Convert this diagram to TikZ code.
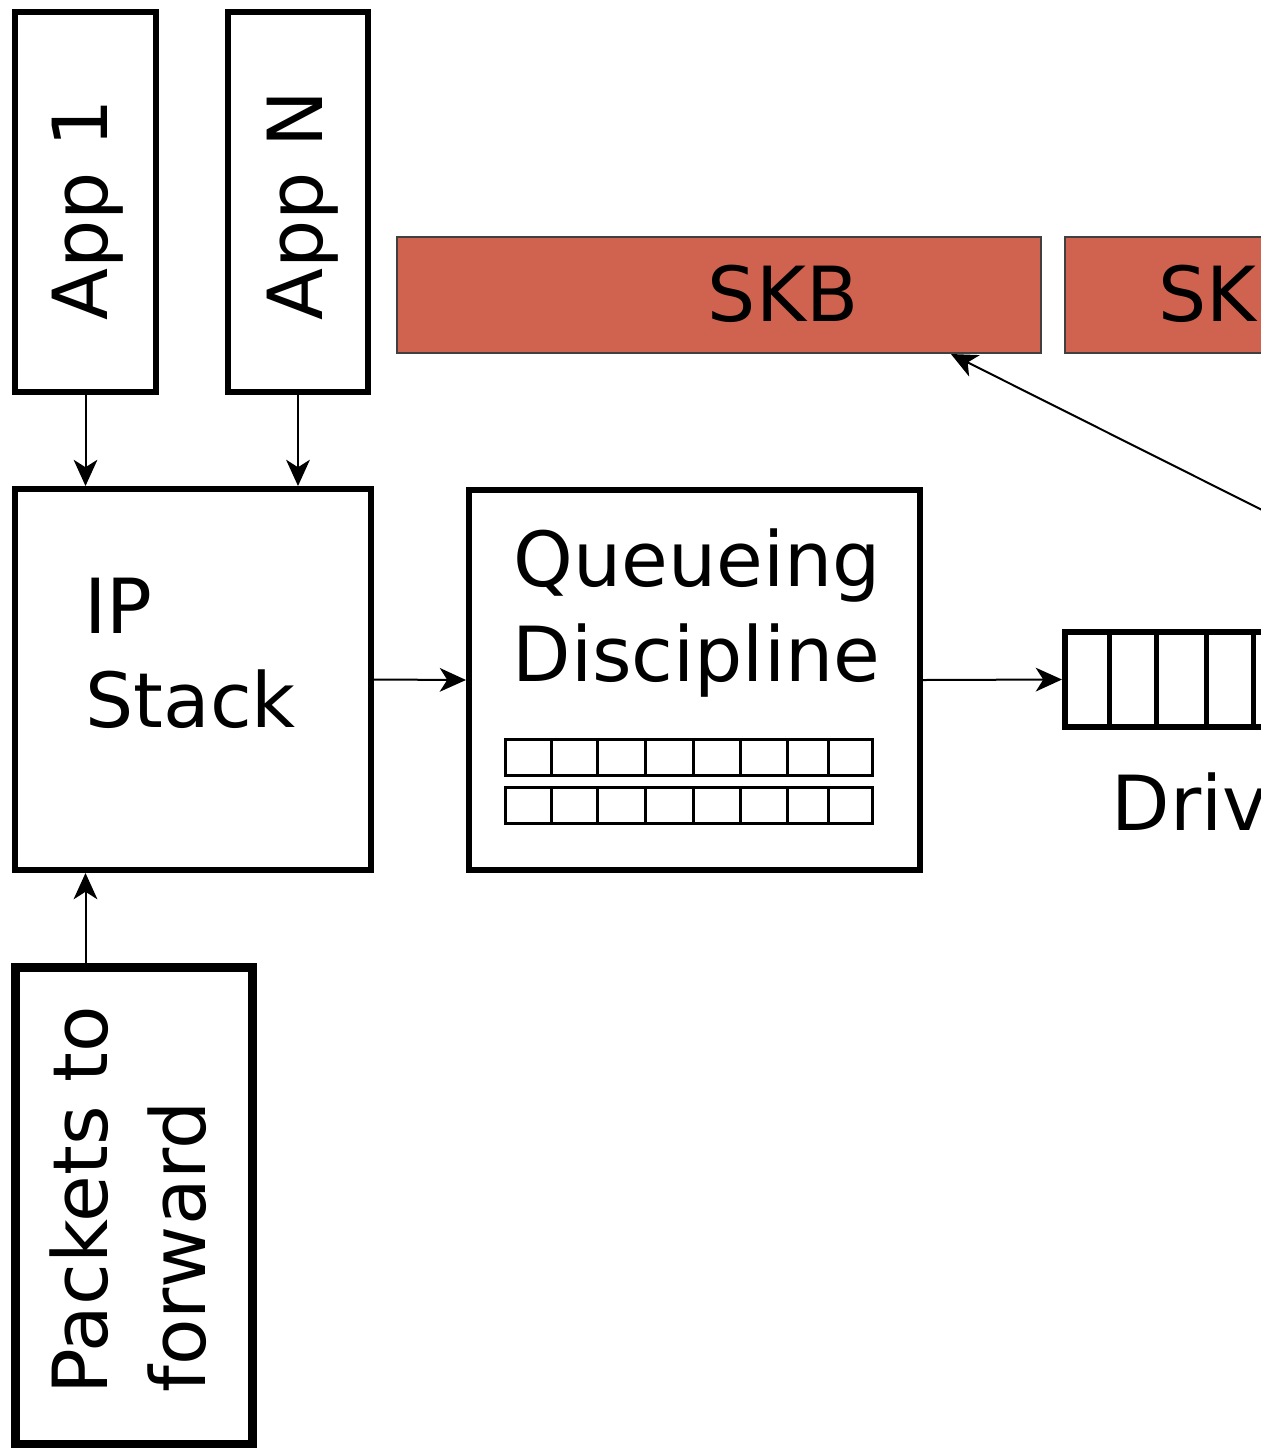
\documentclass[tikz,border=0pt]{standalone}
\usepackage{fontspec}
\setmainfont{DejaVu Sans}
\usetikzlibrary{arrows.meta,calc}
\definecolor{skbred}{RGB}{207,99,79}
\tikzset{
  box/.style={draw, line width=2.4pt, inner sep=0pt},
  heavybox/.style={draw, line width=3.6pt, inner sep=0pt},
  skbbox/.style={draw=black!75, line width=0.8pt, fill=skbred, inner sep=0pt,
    minimum height=46.4pt},
  lbl/.style={inner sep=0pt, font=\fontsize{30.4}{38}\selectfont},
  vlbl/.style={lbl, rotate=90, anchor=base west},
  arr/.style={-{Stealth[length=10.5pt,width=9.5pt,inset=3pt]}, line width=0.8pt},
  cell/.style={line width=1.2pt},
}
\begin{document}
\begin{tikzpicture}[x=0.4pt,y=-0.4pt]
  \useasboundingbox (0,0) rectangle (1261,1448);
  \clip (0,0) rectangle (1261,1448);

  % applications
  \node[box, minimum width=56.4pt, minimum height=152pt] (app1) at (85.5,202) {};
  \node[box, minimum width=56pt, minimum height=152pt] (appn) at (298,202) {};
  \node[vlbl] (app1t) at (108,321) {App 1};
  \node[vlbl] (appnt) at (322,321) {App N};

  % IP stack
  \node[box, minimum width=142.4pt, minimum height=152.4pt] (ip) at (193,679.5) {};
  \node[lbl, anchor=base west] (ipa) at (84,633) {IP};
  \node[lbl, anchor=base west] (ipb) at (85,727) {Stack};

  % queueing discipline with its two queues
  \node[box, minimum width=180.4pt, minimum height=152pt] (qd) at (694.5,680) {};
  \node[lbl, anchor=base west] (qda) at (513,586) {Queueing};
  \node[lbl, anchor=base west] (qdb) at (512,681) {Discipline};
  \foreach \ya/\yb in {739/775, 787/823} {
    \draw[cell] (505,\ya) rectangle (872,\yb);
    \foreach \xx in {551,597,645,693,740,787,828}
      \draw[cell] (\xx,\ya) -- (\xx,\yb);
  }

  % packets to forward
  \node[heavybox, minimum width=94.4pt, minimum height=190.8pt] (pk) at (134,1205.5) {};
  \node[vlbl] (pka) at (108,1395) {Packets to};
  \node[vlbl] (pkb) at (205,1393) {forward};

  % socket buffers
  \node[skbbox, minimum width=257.6pt] (skb1) at (719,295) {};
  \node[skbbox, minimum width=174pt] (skb2) at (1282.5,295) {};
  \node[lbl, anchor=base] (skb1t) at (783,321) {SKB};
  \node[lbl, anchor=base west] (skb2t) at (1158,321) {SKB};

  % driver ring
  \node[box, minimum width=134pt, minimum height=38pt] (drv) at (1232.5,679.5) {};
  \foreach \xx in {1109,1156,1206,1253,1300,1347}
    \draw[line width=2pt] (\xx,632) -- (\xx,727);
  \node[lbl, anchor=base west] (drvt) at (1111,830) {Driver};

  % connectors
  \draw[arr] (app1.south) -- (app1.south |- ip.north);
  \draw[arr] (appn.south) -- (appn.south |- ip.north);
  \draw[arr] (app1.south |- pk.north) -- (app1.south |- ip.south);
  \draw[arr] (ip.east) -- (qd.west);
  \draw[arr] (qd.east) -- (drv.west);
  \coordinate (skbsrc) at (1300,529);
  \coordinate (skbtip) at ($(skb1.south west)!0.859!(skb1.south east)$);
  \draw[arr] (skbsrc) -- (skbtip);
\end{tikzpicture}
\end{document}
